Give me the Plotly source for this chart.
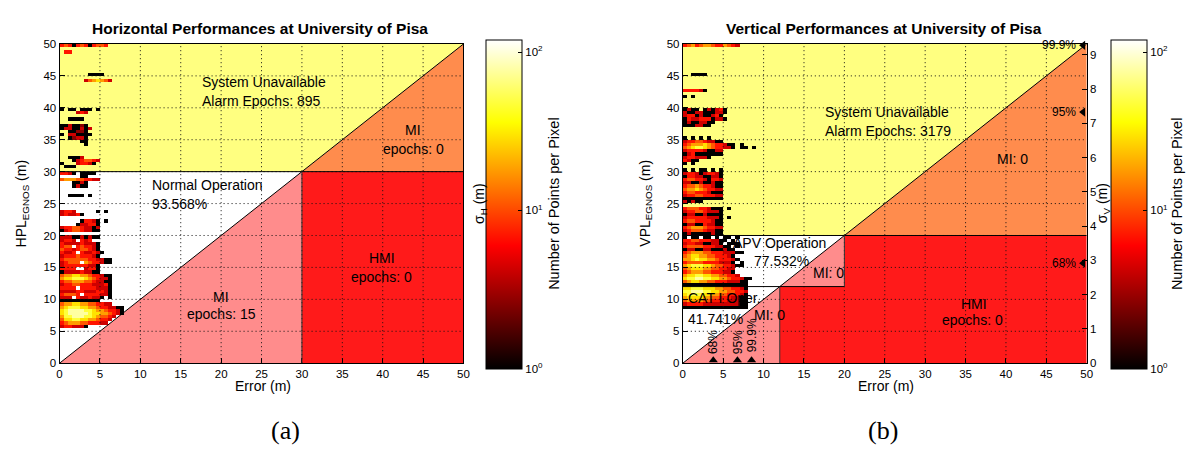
import plotly.graph_objects as go

W, H = 1190, 449

# ---------------- data ----------------
ERR_BIN = 0.5          # width of an error bin (m)
PL_BIN = 0.5           # height of a protection-level bin (m)
N_COLS = 20            # error bins 0..10 m

# 2-D histogram, one string per protection-level bin (top edge of the bin given);
# each character = colour level of one error bin ('.' = empty, 0 = 1 point ... 9 = ~100 points)
A_ROW_TOP = [50.0, 49.0, 45.5, 44.5, 40.0, 39.5, 38.5, 37.5, 37.0, 36.5, 36.0, 35.5, 35.0, 34.5,
             32.5, 32.0, 31.5, 31.0, 30.0, 29.5, 29.0, 28.5, 28.0, 26.5, 24.0, 23.5, 22.5, 22.0,
             21.5, 21.0, 20.0, 19.5, 19.0, 18.5, 18.0, 17.5, 17.0, 16.5, 16.0, 15.5, 15.0, 14.5,
             14.0, 13.5, 13.0, 12.5, 12.0, 11.5, 11.0, 10.5, 10.0, 9.5, 9.0, 8.5, 8.0, 7.5, 7.0,
             6.5, 6.0]
A_ROW_CELLS = ["454045404554", ".44", ".......0000", "......3567653", "0.00.000.0", "....343",
               "..0000", "0030020", "03300303", "..00220", "0.330000", "..02330", ".....00",
               "......0", "..0003", "...0345543", "0...34430", ".000", "4430.0000", ".....00",
               "5666554433", "...0030", "...0300", "..0000.0", "3443.....0.0", "343340",
               ".....04430.0", "....033440", "3445543303", "0345543300", "3330030300",
               "3443.434..", "4333343330", "455.454430", "5443455430", "4334.433430",
               "3444544430", "4555555443300", "34555.6544300", "3444444330", "4444..3440",
               "0333343300", "5667766544300", "6778887654330", "4556665543300", "3445544433340",
               "4444.44443330", "3333443334430", "45554.4444330", "333.4334330.0", "0000000000",
               "5667766554433", "6788877665443300", "7899998876654430", "7899999877665430",
               "68899988765543", "5778877665443", "456665544433", "3443330"]

B_ROW_TOP = [50.0, 45.5, 43.0, 42.0, 40.0, 39.5, 39.0, 38.5, 38.0, 37.5, 35.5, 35.0, 34.5, 34.0,
             33.5, 33.0, 32.5, 32.0, 31.5, 30.5, 30.0, 29.5, 29.0, 28.5, 28.0, 27.5, 27.0, 26.5,
             26.0, 25.5, 24.5, 24.0, 23.5, 23.0, 22.5, 22.0, 21.5, 21.0, 20.5, 20.0, 19.5, 19.0,
             18.5, 18.0, 17.5, 17.0, 16.5, 16.0, 15.5, 15.0, 14.5, 14.0, 13.5, 13.0, 12.5, 12.0,
             11.5, 11.0, 10.5, 10.0, 9.5, 9.0]
B_ROW_CELLS = ["45645665446543", "..0000", "444430", "0.0", "0300.030340", "30033000330",
               "3440300340", "04334440330", "03003300", "0003300", "0.0.0.0", "3445543300",
               "4566676544300.0", "5678876544330.00.0", "3444430033", "0340000000", "3443330",
               "4300", "0.0", "0.0.00.0.0", "3443034430", "0443300330", "4554430443",
               "3300300300", "4556544300", "5667654433", "4554443000", "3445544433",
               "0000000000", "30300", "4555443000.0", "3445543330", "0330030000",
               "3444443330.0", "4554444300", "0330043300", "4566654433", "3455543300",
               "0300000300", "0.00.00.0.00.0", "44554443300.0", "3443300330.000",
               "455554443300.0", "0330033000300", "456665544433300", "5677665544430",
               "66787766544430", "4555544443330.0", "678887765544300", "5677766554433",
               "4566655444330", "67788776655443", "78899887766544300", "5677665544433300",
               "0000000000000000", "7788877766554430", "8899988776655443", "7888877665544430",
               "6777766554443300", "5666655444433300", "3444433333333300", "0000000000000000"]

LEVEL_STEP = 0.21      # log10(points per pixel) per colour level
CB_MAX = 2.08          # colour bar top, log10

AXIS_TICKS = [0, 5, 10, 15, 20, 25, 30, 35, 40, 45, 50]
SIGMA_H_TICKS = [0, 1, 2, 3, 5, 6, 7, 8]
SIGMA_H_MAX = 8.02
SIGMA_V_TICKS = [0, 1, 2, 3, 4, 5, 6, 7, 8, 9]
SIGMA_V_MAX = 9.32
CB_TICKS = [0, 1, 2]
CB_LABELS = ["10<sup>0</sup>", "10<sup>1</sup>", "10<sup>2</sup>"]

HAL = 30        # horizontal alert limit
VAL_APV = 20    # vertical alert limit APV
VAL_CAT = 12    # vertical alert limit CAT I

V_PCT_LABELS = ["68%", "95%", "99.9%"]
V_ERR_PCT = [3.77, 6.76, 8.51]
V_SIGMA_PCT = [2.92, 7.33, 9.28]

HOT = [[0, "rgb(0,0,0)"], [0.375, "rgb(255,0,0)"], [0.75, "rgb(255,255,0)"], [1, "rgb(255,255,255)"]]
YELLOW, ORANGE, PINK, RED = "#FFFF80", "#FF8C4D", "#FF8C8C", "#FF1A1A"
FONT = "Liberation Sans, Arial, sans-serif"


def px(v):
    return v / W


def py(v):
    return 1 - v / H


def build_grid(tops, rows):
    n_rows = int(round(50 / PL_BIN))
    yc = [PL_BIN * (i + 0.5) for i in range(n_rows)]
    xc = [ERR_BIN * (j + 0.5) for j in range(N_COLS)]
    z = [[None] * N_COLS for _ in range(n_rows)]
    for top, s in zip(tops, rows):
        i = int(round(top / PL_BIN)) - 1
        for j, ch in enumerate(s[:N_COLS]):
            if ch.isdigit():
                z[i][j] = int(ch) * LEVEL_STEP
    return xc, yc, z


def colorbar(xleft):
    return dict(x=px(xleft), xanchor="left", y=py(203.5), yanchor="middle",
                len=329, lenmode="pixels", thickness=36, thicknessmode="pixels",
                xpad=0, ypad=0, outlinecolor="black", outlinewidth=1, borderwidth=0,
                tickvals=CB_TICKS, ticktext=CB_LABELS, ticks="inside", ticklen=4,
                tickcolor="black", tickfont=dict(size=11.5, color="black", family=FONT))


fig = go.Figure()

xa, ya, za = build_grid(A_ROW_TOP, A_ROW_CELLS)
fig.add_trace(go.Heatmap(x=xa, y=ya, z=za, zmin=0, zmax=CB_MAX, colorscale=HOT,
                         xaxis="x", yaxis="y", hoverinfo="skip", colorbar=colorbar(487)))
xb, yb, zb = build_grid(B_ROW_TOP, B_ROW_CELLS)
fig.add_trace(go.Heatmap(x=xb, y=yb, z=zb, zmin=0, zmax=CB_MAX, colorscale=HOT,
                         xaxis="x2", yaxis="y3", hoverinfo="skip", colorbar=colorbar(1116)))

# percentile markers (vertical plot)
fig.add_trace(go.Scatter(x=V_ERR_PCT, y=[0.45] * 3, mode="markers", xaxis="x2", yaxis="y3",
                         marker=dict(symbol="triangle-up", size=8, color="black"),
                         cliponaxis=False, hoverinfo="skip", showlegend=False))
fig.add_trace(go.Scatter(x=[49.55] * 3, y=V_SIGMA_PCT, mode="markers", xaxis="x2", yaxis="y4",
                         marker=dict(symbol="triangle-left", size=8, color="black"),
                         cliponaxis=False, hoverinfo="skip", showlegend=False))

shapes = []


def poly(pts, color, xr, yr):
    path = "M " + " L ".join(f"{a},{b}" for a, b in pts) + " Z"
    shapes.append(dict(type="path", path=path, xref=xr, yref=yr, fillcolor=color,
                       line=dict(width=0), layer="below"))


def seg(x0, y0, x1, y1, xr, yr, color="black", dash="solid"):
    shapes.append(dict(type="line", x0=x0, y0=y0, x1=x1, y1=y1, xref=xr, yref=yr,
                       line=dict(color=color, width=1, dash=dash), layer="above"))


# horizontal plot regions
poly([(0, HAL), (0, 50), (50, 50), (HAL, HAL)], YELLOW, "x", "y")
poly([(HAL, HAL), (50, 50), (50, HAL)], ORANGE, "x", "y")
poly([(0, 0), (HAL, HAL), (HAL, 0)], PINK, "x", "y")
poly([(HAL, 0), (HAL, HAL), (50, HAL), (50, 0)], RED, "x", "y")

# vertical plot regions
poly([(0, VAL_APV), (0, 50), (50, 50), (VAL_APV, VAL_APV)], YELLOW, "x2", "y3")
poly([(VAL_APV, VAL_APV), (50, 50), (50, VAL_APV)], ORANGE, "x2", "y3")
poly([(0, 0), (VAL_APV, VAL_APV), (VAL_APV, VAL_CAT), (VAL_CAT, VAL_CAT), (VAL_CAT, 0)], PINK, "x2", "y3")
poly([(VAL_CAT, 0), (VAL_CAT, VAL_CAT), (VAL_APV, VAL_CAT), (VAL_APV, VAL_APV), (50, VAL_APV), (50, 0)],
     RED, "x2", "y3")

# dotted grid drawn on top (as in the reference)
for xr, yr in (("x", "y"), ("x2", "y3")):
    for t in AXIS_TICKS[1:-1]:
        seg(t, 0, t, 50, xr, yr, "#111111", "1px,3px")
        seg(0, t, 50, t, xr, yr, "#111111", "1px,3px")

# region boundaries
seg(0, 0, 50, 50, "x", "y")
seg(0, HAL, 50, HAL, "x", "y")
seg(HAL, 0, HAL, HAL, "x", "y", "#333333")
seg(0, 0, 50, 50, "x2", "y3")
seg(0, VAL_APV, 50, VAL_APV, "x2", "y3")
seg(0, VAL_CAT, VAL_APV, VAL_CAT, "x2", "y3")
seg(VAL_APV, VAL_CAT, VAL_APV, VAL_APV, "x2", "y3", "#333333")
seg(VAL_CAT, 0, VAL_CAT, VAL_CAT, "x2", "y3", "#333333")

ann = []


def txt(t, x, y, xr, yr, xa="center", size=14, angle=0, ya="middle", bold=False, fam=FONT):
    ann.append(dict(text=f"<b>{t}</b>" if bold else t, x=x, y=y, xref=xr, yref=yr,
                    xanchor=xa, yanchor=ya, showarrow=False, textangle=angle,
                    font=dict(family=fam, size=size, color="black")))


# horizontal plot texts
txt("System Unavailable", 17.4, 44.05, "x", "y", "left")
txt("Alarm Epochs: 895", 17.4, 41.1, "x", "y", "left")
txt("Normal Operation", 11.2, 27.9, "x", "y", "left")
txt("93.568%", 11.2, 24.95, "x", "y", "left")
txt("MI", 20.0, 10.3, "x", "y")
txt("epochs: 15", 20.0, 7.67, "x", "y")
txt("MI", 43.8, 36.6, "x", "y")
txt("epochs: 0", 43.8, 33.6, "x", "y")
txt("HMI", 39.9, 16.4, "x", "y")
txt("epochs: 0", 39.9, 13.5, "x", "y")

# vertical plot texts
txt("System Unavailable", 17.4, 39.4, "x2", "y3", "left")
txt("Alarm Epochs: 3179", 17.4, 36.4, "x2", "y3", "left")
txt("MI: 0", 40.75, 31.96, "x2", "y3")
txt("HMI", 36.0, 9.3, "x2", "y3")
txt("epochs: 0", 35.8, 6.76, "x2", "y3")
txt("APV Operation", 18.0, 18.75, "x2", "y3", "right")
txt("77.532%", 8.6, 16.05, "x2", "y3", "left")
txt("MI: 0", 18.0, 14.2, "x2", "y3")
txt("CAT I Oper.", 0.4, 10.2, "x2", "y3", "left")
txt("41.741%", 0.4, 6.9, "x2", "y3", "left")
txt("MI: 0", 8.6, 7.6, "x2", "y3", "left")
for lab, xv, yv in zip(V_PCT_LABELS, V_ERR_PCT, [3.35, 3.35, 4.3]):
    txt(lab, xv, yv, "x2", "y3", size=12, angle=-90)
for lab, sv in zip(V_PCT_LABELS, V_SIGMA_PCT):
    txt(lab, 48.9, sv, "x2", "y4", "right", size=12)

# titles and axis labels
txt("Horizontal Performances at University of Pisa", px(259), py(23.5), "paper", "paper", size=15.5, bold=True)
txt("Vertical Performances at University of Pisa", px(888), py(23.5), "paper", "paper", size=15.5, bold=True)
txt("Error (m)", px(261.5), py(390), "paper", "paper")
txt("Error (m)", px(889.5), py(390), "paper", "paper")
txt("HPL<sub>EGNOS</sub> (m)", px(19), py(203), "paper", "paper", angle=-90)
txt("VPL<sub>EGNOS</sub> (m)", px(647), py(203), "paper", "paper", angle=-90)
txt("σ<sub>H</sub> (m)", px(480), py(203), "paper", "paper", angle=-90)
txt("σ<sub>V</sub> (m)", px(1108), py(203), "paper", "paper", angle=-90)
txt("Number of Points per Pixel", px(555), py(203.5), "paper", "paper", size=14.5, angle=-90)
txt("Number of Points per Pixel", px(1183), py(203.5), "paper", "paper", size=14.5, angle=-90)
txt("(a)", px(284.5), py(436), "paper", "paper", size=26, fam="Liberation Serif, Times New Roman, serif")
txt("(b)", px(887), py(436), "paper", "paper", size=26, fam="Liberation Serif, Times New Roman, serif")

common = dict(range=[0, 50], tickvals=AXIS_TICKS, ticks="inside", ticklen=5, tickcolor="black",
              showline=True, linecolor="black", linewidth=1, mirror=True, zeroline=False,
              showgrid=False, tickfont=dict(size=11.5, color="black", family=FONT), fixedrange=True)
sig = dict(ticks="inside", ticklen=5, tickcolor="black", showline=True, linecolor="black",
           linewidth=1, zeroline=False, showgrid=False, side="right",
           tickfont=dict(size=11.5, color="black", family=FONT))

XD1 = [px(57), px(464)]
XD2 = [px(685), px(1092)]
YD = [py(367), py(39)]

fig.update_layout(
    width=W, height=H, margin=dict(l=0, r=0, t=0, b=0),
    paper_bgcolor="white", plot_bgcolor="white", showlegend=False,
    xaxis=dict(domain=XD1, anchor="y", **common),
    yaxis=dict(domain=YD, anchor="x", **common),
    yaxis2=dict(overlaying="y", anchor="x", range=[0, SIGMA_H_MAX], tickvals=SIGMA_H_TICKS, **sig),
    xaxis2=dict(domain=XD2, anchor="y3", **common),
    yaxis3=dict(domain=YD, anchor="x2", **common),
    yaxis4=dict(overlaying="y3", anchor="x2", range=[0, SIGMA_V_MAX], tickvals=SIGMA_V_TICKS, **sig),
    shapes=shapes, annotations=ann,
)

fig.write_html("out.html")
